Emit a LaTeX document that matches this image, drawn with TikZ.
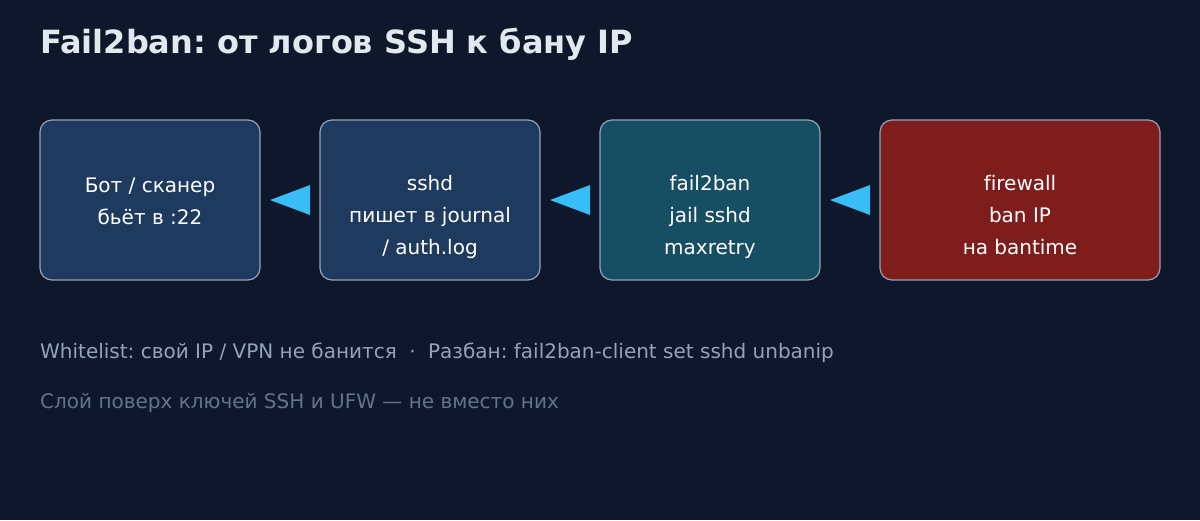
\documentclass[tikz,border=0pt]{standalone}
\usepackage{fontspec}
\setmainfont[Ligatures=NoCommon]{DejaVu Sans}
\frenchspacing
\usetikzlibrary{arrows.meta}
\definecolor{bgc}{HTML}{0F172A}
\definecolor{titlec}{HTML}{E2E8F0}
\definecolor{boxblue}{HTML}{1E3A5F}
\definecolor{boxteal}{HTML}{164E63}
\definecolor{boxred}{HTML}{7F1D1D}
\definecolor{strokec}{HTML}{94A3B8}
\definecolor{arrowc}{HTML}{38BDF8}
\definecolor{noteA}{HTML}{94A3B8}
\definecolor{noteB}{HTML}{64748B}
\tikzset{
  stagebox/.style={draw=strokec, line width=1.2pt, rounded corners=12pt,
    minimum height=160pt, inner sep=0pt, outer sep=0pt},
  boxtext/.style={font=\frenchspacing\fontsize{20}{31.8}\selectfont, text=white, align=center,
    inner sep=0pt, anchor=north},
  flowtri/.style={fill=arrowc},
  note/.style={anchor=base west, inner sep=0pt, font=\frenchspacing\fontsize{20}{24}\selectfont}
}
\begin{document}
\begin{tikzpicture}[x=1pt,y=-1pt]
\fill[bgc] (0,0) rectangle (1200,520);
\useasboundingbox (0,0) rectangle (1200,520);

\node[anchor=base west, inner sep=0pt, text=titlec,
  font=\frenchspacing\bfseries\fontsize{32}{38}\selectfont] (title) at (40,53.5)
  {Fail2ban: от логов SSH к бану IP};

\node[stagebox, fill=boxblue, minimum width=220pt] (b1) at (150,200) {};
\node[stagebox, fill=boxblue, minimum width=220pt] (b2) at (430,200) {};
\node[stagebox, fill=boxteal, minimum width=220pt] (b3) at (710,200) {};
\node[stagebox, fill=boxred,  minimum width=280pt] (b4) at (1020,200) {};

\node[boxtext] (t1) at ([yshift=-57.5pt]b1.north) {Бот / сканер\\бьёт в :22};
\node[boxtext] (t2) at ([yshift=-55pt]b2.north) {sshd\\пишет в journal\\/ auth.log};
\node[boxtext] (t3) at ([yshift=-55pt]b3.north) {fail2ban\\jail sshd\\maxretry};
\node[boxtext] (t4) at ([yshift=-55pt]b4.north) {firewall\\ban IP\\на bantime};

\fill[flowtri] ([xshift=-10pt,yshift=15pt]b2.west) -- ([xshift=-10pt,yshift=-15pt]b2.west)
  -- ([xshift=10pt]b1.east) -- cycle;
\fill[flowtri] ([xshift=-10pt,yshift=15pt]b3.west) -- ([xshift=-10pt,yshift=-15pt]b3.west)
  -- ([xshift=10pt]b2.east) -- cycle;
\fill[flowtri] ([xshift=-10pt,yshift=15pt]b4.west) -- ([xshift=-10pt,yshift=-15pt]b4.west)
  -- ([xshift=10pt]b3.east) -- cycle;

\node[note, text=noteA] (n1) at (40,358)
  {Whitelist: свой IP / VPN не банится\hspace{12.5pt}·\hspace{12.5pt}Разбан: fail2ban-client set sshd unbanip};
\node[note, text=noteB] (n2) at (40,408)
  {Слой поверх ключей SSH и UFW — не вместо них};
\end{tikzpicture}
\end{document}
